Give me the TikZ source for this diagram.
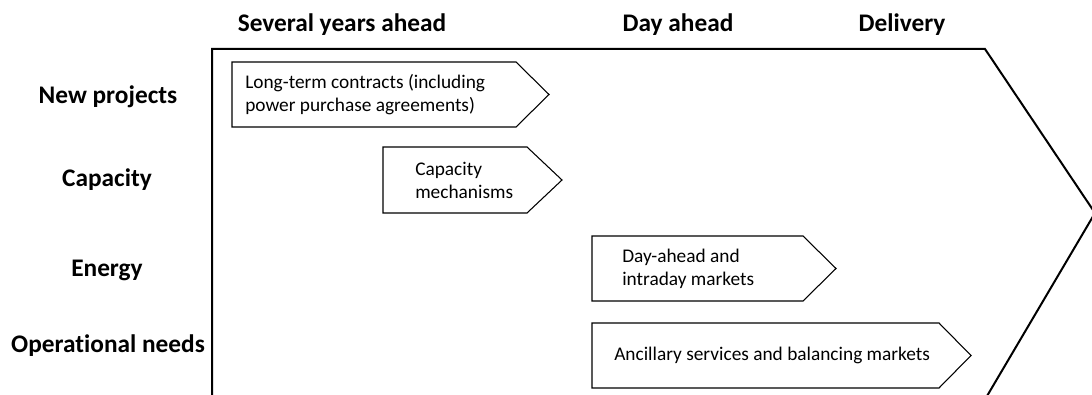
\documentclass[tikz,border=0pt]{standalone}
\usepackage{fontspec}
\setmainfont{Carlito}[Ligatures={NoCommon}]
\begin{document}
\begin{tikzpicture}[x=0.75pt,y=-0.75pt,
  head/.style={font={\fontsize{19}{22}\selectfont\bfseries}, inner sep=0pt},
  body/.style={font={\fontsize{14.5}{17.2}\selectfont}, align=left, inner sep=0pt, anchor=west},
  chev/.style={draw=black, line width=0.8pt, line join=miter},
  outer/.style={draw=black, line width=1.5pt, line join=miter}]
\useasboundingbox (0,0) rectangle (1092,395);
\clip (0,0) rectangle (1092,395);
% outer chevron
\draw[outer] (212,420) -- (212,49) -- (985,49) -- (1095,213) -- (977,413);
% headers
\node[head] (h1) at (342,25) {Several years ahead};
\node[head] (h2) at (678,25) {Day ahead};
\node[head] (h3) at (902,25) {Delivery};
% row labels
\node[head] (r1) at (108,97) {New projects};
\node[head] (r2) at (107,180) {Capacity};
\node[head] (r3) at (107,270) {Energy};
\node[head] (r4) at (108,346) {Operational needs};
% boxes
\draw[chev] (232,62) -- (516,62) -- (549,94.5) -- (516,127) -- (232,127) -- cycle;
\node[body] (b1) at (245,94.5) {Long-term contracts (including\\power purchase agreements)};
\draw[chev] (383,147) -- (527,147) -- (562,180) -- (527,213) -- (383,213) -- cycle;
\node[body] (b2) at (415,180) {Capacity\\mechanisms};
\draw[chev] (592,236) -- (803,236) -- (836,268.5) -- (803,301) -- (592,301) -- cycle;
\node[body] (b3) at (622,268.5) {Day-ahead and\\intraday markets};
\draw[chev] (592,323) -- (939,323) -- (971,355.5) -- (939,388) -- (592,388) -- cycle;
\node[body] (b4) at (614,355.5) {Ancillary services and balancing markets};
\end{tikzpicture}
\end{document}
